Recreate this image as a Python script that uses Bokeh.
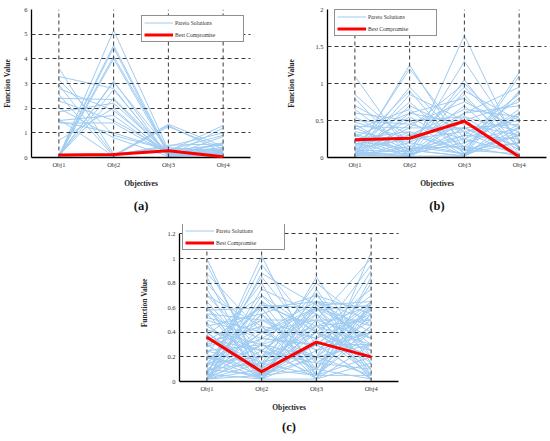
from bokeh.plotting import figure
from bokeh.models import (Range1d, FixedTicker, CustomJSTickFormatter, Legend,
                          LegendItem, Title, Spacer)
from bokeh.layouts import row, column
from bokeh.embed import file_html
from bokeh.resources import INLINE

OBJ_LABELS = ["Obj1", "Obj2", "Obj3", "Obj4"]
OBJ_POS = [1, 2, 3, 4]

# ---------------- panel (a) ----------------
A_OBJ1 = [0.05, 0.08, 0.05, 0.10, 0.05, 0.05, 0.10, 0.05, 0.08, 3.62, 3.28, 3.15, 2.95,
          2.80, 2.55, 2.40, 2.30, 2.00, 1.85, 1.55, 1.50, 1.45, 1.40, 0.70, 0.10, 0.05]
A_OBJ2 = [5.15, 4.55, 4.45, 4.10, 4.00, 3.10, 3.05, 2.75, 2.40, 0.15, 2.80, 0.90, 0.10,
          1.90, 0.05, 2.35, 1.50, 0.80, 2.20, 0.05, 1.70, 1.00, 1.40, 2.00, 0.05, 0.10]
A_OBJ3 = [0.30, 0.20, 0.10, 0.25, 0.15, 0.05, 0.35, 0.10, 0.20, 0.40, 0.05, 0.30, 1.30,
          0.15, 1.35, 0.10, 0.25, 0.05, 0.20, 1.25, 0.10, 0.30, 0.15, 0.05, 0.45, 0.50]
A_OBJ4 = [0.10, 0.35, 0.55, 0.20, 0.05, 0.85, 0.30, 0.15, 0.40, 0.25, 0.10, 0.50, 0.20,
          0.30, 0.45, 0.05, 1.30, 1.20, 0.15, 0.35, 0.60, 0.90, 0.25, 0.20, 1.00, 0.55]
A_BEST = [0.10, 0.12, 0.27, 0.03]
A_YTICKS = [0, 1, 2, 3, 4, 5, 6]

# ---------------- panel (b) ----------------
B_OBJ1 = [0.02, 0.05, 1.10, 0.03, 0.10, 0.02, 0.05, 0.85, 0.80, 0.70,
          0.04, 0.15, 0.02, 0.30, 0.06, 0.20, 0.12, 0.02, 0.40, 0.25,
          0.05, 0.50, 0.35, 0.60, 0.45, 0.02, 0.10, 0.55, 0.28, 0.18,
          0.02, 0.38, 0.08, 0.48, 0.22, 0.03, 0.15, 0.32, 0.02, 0.42,
          0.12, 0.65, 0.05, 0.26, 0.02]
B_OBJ2 = [1.25, 1.20, 0.05, 0.02, 0.08, 0.15, 0.10, 0.20, 0.02, 0.30,
          0.95, 0.90, 0.85, 0.05, 0.40, 0.02, 0.25, 0.60, 0.10, 0.35,
          0.02, 0.45, 0.20, 0.50, 0.02, 0.70, 0.55, 0.15, 0.60, 0.30,
          0.45, 0.65, 0.02, 0.25, 0.12, 0.35, 0.50, 0.08, 0.20, 0.40,
          0.75, 0.10, 0.05, 0.02, 0.30]
B_OBJ3 = [0.10, 0.25, 0.20, 1.65, 1.30, 0.05, 0.02, 0.05, 0.40, 0.10,
          0.20, 0.05, 0.50, 1.05, 1.00, 0.90, 0.85, 0.80, 0.02, 0.10,
          0.30, 0.25, 0.60, 0.02, 0.55, 0.35, 0.15, 0.70, 0.45, 0.65,
          0.75, 0.05, 0.50, 0.35, 0.15, 0.02, 0.55, 0.25, 0.95, 0.40,
          0.10, 0.30, 0.60, 0.02, 0.40]
B_OBJ4 = [0.30, 0.05, 0.40, 0.10, 0.20, 1.15, 1.10, 0.30, 0.15, 0.05,
          0.60, 0.45, 0.02, 0.10, 0.25, 0.50, 0.05, 0.15, 0.90, 0.88,
          0.85, 0.80, 0.70, 0.60, 0.35, 0.50, 0.02, 0.02, 0.30, 0.55,
          0.40, 0.20, 0.75, 0.02, 0.65, 0.35, 0.10, 0.55, 0.25, 0.45,
          0.20, 0.25, 0.95, 0.40, 0.05]
B_BEST = [0.24, 0.26, 0.49, 0.01]
B_YTICKS = [0, 0.5, 1, 1.5, 2]

# ---------------- panel (c) ----------------
C_OBJ1 = [1.00, 0.95, 0.85, 0.80, 0.75, 0.70, 0.62, 0.60, 0.58, 0.55,
          0.50, 0.48, 0.45, 0.42, 0.40, 0.38, 0.35, 0.32, 0.30, 0.28,
          0.25, 0.22, 0.20, 0.18, 0.15, 0.12, 0.10, 0.08, 0.05, 0.05,
          0.02, 0.02, 0.03, 0.02, 0.04, 0.02, 0.06, 0.02, 0.10, 0.02,
          0.15, 0.20, 0.25, 0.30, 0.35, 0.40, 0.45, 0.52, 0.60, 0.65,
          0.02, 0.05, 0.08, 0.02, 0.12, 0.18, 0.02, 0.22, 0.28, 0.33,
          0.38, 0.42, 0.02, 0.05, 0.10, 0.15, 0.55, 0.70, 0.88, 0.03]
C_OBJ2 = [0.05, 0.10, 0.02, 0.30, 0.05, 0.45, 0.02, 0.20, 0.60, 0.10,
          0.35, 0.02, 0.55, 0.25, 0.05, 0.70, 0.15, 0.45, 0.02, 0.62,
          0.30, 0.80, 0.10, 0.50, 0.02, 0.85, 0.40, 0.65, 1.02, 0.95,
          0.75, 0.60, 0.20, 0.05, 0.30, 0.55, 0.02, 0.45, 0.15, 0.35,
          0.62, 0.02, 0.12, 0.50, 0.25, 0.08, 0.20, 0.40, 0.05, 0.15,
          0.70, 0.88, 0.30, 0.10, 0.55, 0.35, 0.25, 0.05, 0.45, 0.60,
          0.02, 0.30, 0.15, 0.40, 0.05, 0.20, 0.50, 0.25, 0.40, 0.65]
C_OBJ3 = [0.30, 0.05, 0.40, 0.10, 0.60, 0.02, 0.65, 0.20, 0.05, 0.50,
          0.30, 0.75, 0.15, 0.55, 0.10, 0.40, 0.70, 0.02, 0.35, 0.60,
          0.45, 0.05, 0.85, 0.25, 0.62, 0.30, 0.65, 0.10, 0.15, 0.40,
          0.55, 0.02, 0.80, 0.50, 0.20, 0.70, 0.02, 0.35, 0.05, 0.60,
          0.45, 0.20, 0.65, 0.50, 0.05, 0.30, 0.40, 0.60, 0.25, 0.45,
          0.25, 0.62, 0.72, 0.40, 0.05, 0.30, 0.15, 0.55, 0.10, 0.65,
          0.45, 0.02, 0.30, 0.50, 0.20, 0.58, 0.35, 0.60, 0.20, 0.40]
C_OBJ4 = [0.40, 0.55, 0.20, 0.02, 0.10, 0.30, 0.50, 0.60, 0.05, 0.35,
          0.62, 0.15, 0.45, 0.02, 0.80, 0.05, 0.25, 0.65, 0.95, 0.10,
          0.50, 0.40, 0.20, 0.58, 0.65, 0.02, 0.30, 0.62, 0.10, 0.25,
          0.05, 1.05, 0.45, 1.00, 0.90, 0.55, 0.85, 0.70, 0.60, 0.35,
          0.15, 0.50, 0.60, 0.02, 0.45, 0.65, 0.10, 0.20, 0.40, 0.30,
          0.60, 0.35, 0.05, 0.75, 0.20, 0.02, 0.40, 0.25, 0.55, 0.40,
          0.62, 0.15, 0.30, 0.50, 0.05, 0.62, 0.55, 0.45, 0.30, 0.20]
C_BEST = [0.36, 0.08, 0.32, 0.20]
C_YTICKS = [0, 0.2, 0.4, 0.6, 0.8, 1.0, 1.2]

SERIF = "Liberation Serif"
BLUE = "#9ecbf2"
RED = "#ff0000"
GRID = "#3a3a3a"


def make_panel(cols, best, yticks, y_end, letter, width, height, mbl, mbr, mbt, frame_h,
               ylab_standoff, legend_xy, title_standoff):
    ymax = yticks[-1]
    p = figure(width=width, height=height, output_backend="svg", toolbar_location=None,
               x_range=Range1d(0.5, 4.5), y_range=Range1d(0, y_end),
               min_border_left=mbl, min_border_right=mbr, min_border_top=mbt,
               min_border_bottom=height - mbt - frame_h)
    p.outline_line_color = None
    p.background_fill_color = "white"
    p.xgrid.visible = False

    xs = [OBJ_POS for _ in cols[0]]
    ys = [list(v) for v in zip(*cols)]
    blue = p.multi_line(xs, ys, line_color=BLUE, line_width=1)
    # vertical dashed guides at each objective, from 0 up to the top tick
    p.segment(x0=OBJ_POS, y0=[0] * 4, x1=OBJ_POS, y1=[ymax] * 4,
              line_color=GRID, line_dash="4 3", line_width=1)
    red = p.line(OBJ_POS, best, line_color=RED, line_width=3, level="annotation")

    p.xaxis.ticker = FixedTicker(ticks=OBJ_POS)
    p.xaxis.major_label_overrides = {k: s for k, s in zip(OBJ_POS, OBJ_LABELS)}
    p.yaxis.ticker = FixedTicker(ticks=yticks)
    p.yaxis.formatter = CustomJSTickFormatter(code="return String(Math.round(tick*100)/100);")
    p.yaxis.bounds = (0, ymax)
    p.xaxis.axis_label = "Objectives"
    p.yaxis.axis_label = "Function Value"

    for ax in (p.xaxis[0], p.yaxis[0]):
        ax.axis_line_color = "black"
        ax.axis_line_width = 1.3
        ax.major_tick_line_color = None
        ax.minor_tick_line_color = None
        ax.major_tick_in = 0
        ax.major_tick_out = 0
        ax.minor_tick_in = 0
        ax.minor_tick_out = 0
        ax.major_label_text_font = SERIF
        ax.major_label_text_font_size = "6.5px"
        ax.major_label_text_color = "#333333"
        ax.major_label_standoff = 4
        ax.axis_label_text_font = SERIF
        ax.axis_label_text_font_style = "bold"
        ax.axis_label_text_font_size = "7.5px"
        ax.axis_label_text_color = "#222222"
    p.xaxis.major_label_standoff = 3
    p.xaxis.axis_label_standoff = 8
    p.yaxis.axis_label_standoff = ylab_standoff

    g = p.ygrid[0]
    g.grid_line_color = GRID
    g.grid_line_dash = "4 3"
    g.grid_line_width = 1
    g.level = "guide"

    legend = Legend(items=[LegendItem(label="Pareto Solutions", renderers=[blue]),
                           LegendItem(label="Best Compromise", renderers=[red])],
                    location=legend_xy, orientation="vertical",
                    glyph_width=29, glyph_height=9, label_height=9, label_width=66,
                    label_standoff=2, padding=2, spacing=3, margin=0,
                    label_text_font=SERIF, label_text_font_size="5.6px",
                    label_text_color="#333333", label_text_baseline="middle",
                    border_line_color="#222222", border_line_width=1.5,
                    background_fill_color="white", background_fill_alpha=1.0)
    p.add_layout(legend)

    t = Title(text=letter, align="center", text_font=SERIF, text_font_size="12.5px",
              text_font_style="bold", text_color="#111111", standoff=title_standoff)
    p.add_layout(t, "below")
    return p


pa = make_panel([A_OBJ1, A_OBJ2, A_OBJ3, A_OBJ4], A_BEST, A_YTICKS, 6, "(a)",
                width=275, height=220, mbl=31, mbr=25, mbt=9, frame_h=148,
                ylab_standoff=9, legend_xy=(110, 115), title_standoff=12)
pb = make_panel([B_OBJ1, B_OBJ2, B_OBJ3, B_OBJ4], B_BEST, B_YTICKS, 2, "(b)",
                width=273, height=220, mbl=52, mbr=2, mbt=9, frame_h=148,
                ylab_standoff=16, legend_xy=(7, 121), title_standoff=12)
pc = make_panel([C_OBJ1, C_OBJ2, C_OBJ3, C_OBJ4], C_BEST, C_YTICKS, 1.277, "(c)",
                width=280, height=221, mbl=44, mbr=17, mbt=4, frame_h=157,
                ylab_standoff=15, legend_xy=(3, 131), title_standoff=7)

layout = column(row(pa, pb), row(Spacer(width=135, height=221), pc))

open("out.html", "w").write(file_html(layout, INLINE))
